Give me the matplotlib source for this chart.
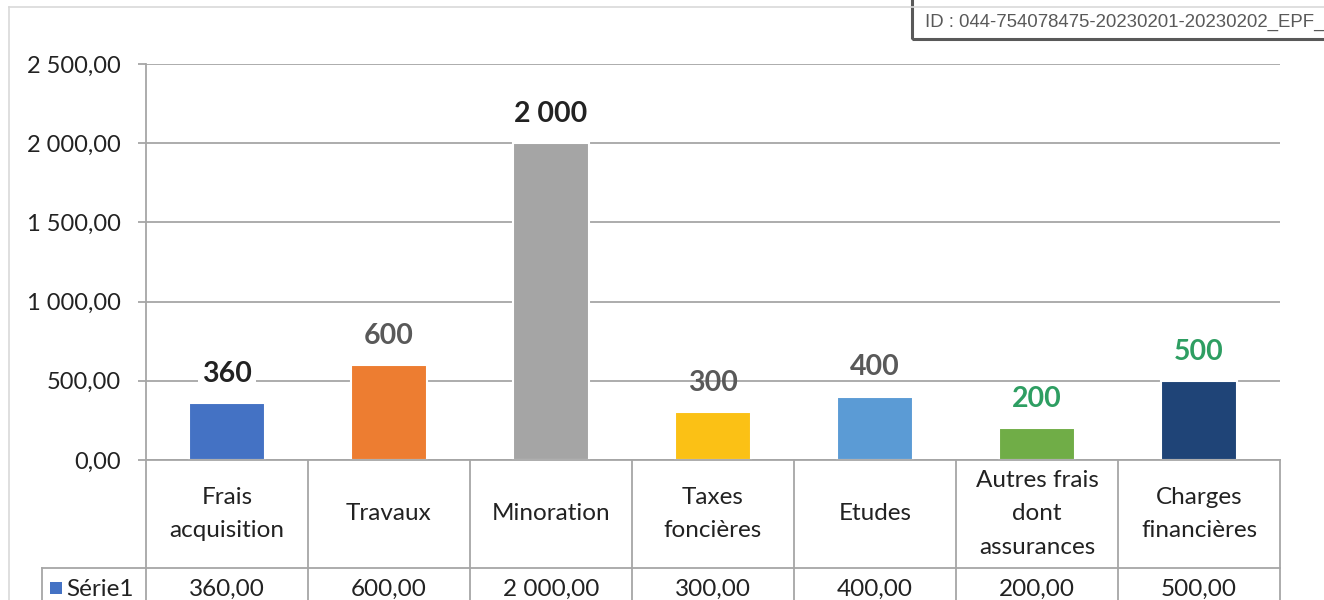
import matplotlib
matplotlib.use('Agg')
import matplotlib.pyplot as plt
import matplotlib.patches as patches
from matplotlib.lines import Line2D
from matplotlib.ticker import FuncFormatter, MultipleLocator
from matplotlib.transforms import blended_transform_factory

# Data
categories = ['Frais\nacquisition', 'Travaux', 'Minoration', 'Taxes\nfoncières',
              'Etudes', 'Autres frais\ndont\nassurances', 'Charges\nfinancières']
values = [360, 600, 2000, 300, 400, 200, 500]
series_name = 'Série1'

# Styles
bar_colors = ['#4472C4', '#ED7D31', '#A5A5A5', '#FBC115', '#5B9BD5', '#70AD47', '#1F4477']
label_colors = ['#222222', '#595959', '#222222', '#595959', '#595959', '#2E9E62', '#2E9E62']
label_bg = [True, True, False, False, False, False, True]

plt.rcParams['font.family'] = ['Lato', 'DejaVu Sans']

W, H = 1324, 600
fig = plt.figure(figsize=(W / 100, H / 100), dpi=100)
fig.patch.set_facecolor('white')


def fx(px):
    return px / W


def fy(py):
    return 1 - py / H


def fr(v, dec):
    return f"{v:,.{dec}f}".replace(",", " ").replace(".", ",")


left, right, top, bottom = 146, 1280, 64, 460
ax = fig.add_axes([fx(left), fy(bottom), fx(right - left), (bottom - top) / H])

grid_c = '#A6A6A6'
txt_c = '#222222'
x = list(range(len(values)))
ax.bar(x, values, width=0.475, color=bar_colors, edgecolor='white', linewidth=1.5, zorder=3)

ax.set_xlim(-0.5, len(values) - 0.5)
ax.set_ylim(0, 2500)
ax.yaxis.set_major_locator(MultipleLocator(500))
ax.yaxis.set_major_formatter(FuncFormatter(lambda v, p: fr(v, 2)))
ax.grid(axis='y', color=grid_c, linewidth=1.3, zorder=0)
ax.set_xticks([])
for s in ['top', 'right', 'bottom']:
    ax.spines[s].set_visible(False)
ax.spines['left'].set_color(grid_c)
ax.spines['left'].set_linewidth(1.3)
ax.tick_params(axis='y', length=6, width=1.3, color=grid_c, pad=12,
               labelsize=17, labelcolor=txt_c)

# Data labels
for i, v in enumerate(values):
    bbox = dict(facecolor='white', edgecolor='none', pad=3) if label_bg[i] else None
    ax.annotate(fr(v, 0), (i, v), xytext=(0, 21),
                textcoords='offset points', ha='center', va='center',
                fontsize=20.5, fontweight='bold', color=label_colors[i],
                bbox=bbox, zorder=5)

# Data table
tr = blended_transform_factory(ax.transData, fig.transFigure)
row1, row2 = 460, 568
line_kw = dict(color=grid_c, linewidth=1.3, clip_on=False)
fig.add_artist(Line2D([fx(left), fx(right)], [fy(row1), fy(row1)], **line_kw))
fig.add_artist(Line2D([fx(42), fx(right)], [fy(row2), fy(row2)], **line_kw))
fig.add_artist(Line2D([fx(42), fx(42)], [fy(row2), fy(H + 5)], **line_kw))
for b in range(len(values) + 1):
    ax.add_artist(Line2D([b - 0.5, b - 0.5], [fy(row1), fy(H + 5)], transform=tr, **line_kw))
for i, (c, v) in enumerate(zip(categories, values)):
    ax.text(i, fy((row1 + row2) / 2), c, transform=tr, ha='center', va='center',
            fontsize=17.5, color=txt_c, linespacing=1.72, clip_on=False)
    ax.text(i, fy(589), fr(v, 2), transform=tr,
            ha='center', va='center', fontsize=17.5, color=txt_c, clip_on=False)

fig.add_artist(patches.Rectangle((fx(50), fy(594)), fx(12), 12 / H,
                                 facecolor=bar_colors[0], edgecolor='none'))
fig.text(fx(66), fy(589), series_name, ha='left', va='center', fontsize=17.5, color=txt_c)

# Chart border
fig.add_artist(Line2D([fx(9), 1], [fy(7), fy(7)], color='#D9D9D9', linewidth=1.2))
fig.add_artist(Line2D([fx(9), fx(9)], [fy(7), 0], color='#D9D9D9', linewidth=1.2))

# ID stamp
fig.add_artist(patches.Rectangle((fx(912), fy(39)), fx(440), 50 / H,
                                 facecolor='none', edgecolor='#595959', linewidth=2.2))
fig.text(fx(925), fy(22), 'ID : 044-754078475-20230201-20230202_EPF_',
         family='Liberation Sans', fontsize=13.4, color='#595959', ha='left', va='center')

fig.savefig('out.png', dpi=100, facecolor='white')
plt.close()
